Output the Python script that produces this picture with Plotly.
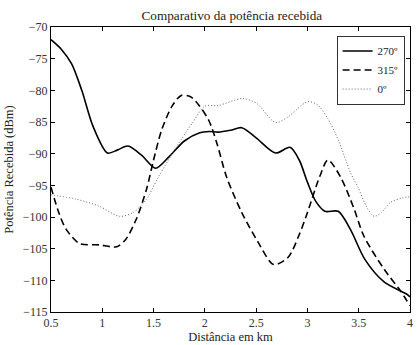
import plotly.graph_objects as go

x_270 = [0.5, 0.60, 0.70, 0.80, 0.91, 1.05, 1.15, 1.25, 1.38, 1.52, 1.65, 1.80, 1.95, 2.04, 2.13, 2.25, 2.36, 2.50, 2.69, 2.83, 2.92, 3.00, 3.08, 3.17, 3.30, 3.42, 3.56, 3.75, 3.97, 4.0]
y_270 = [-72.0, -73.5, -75.8, -80.0, -85.7, -89.9, -89.4, -88.8, -90.2, -92.3, -90.5, -88.0, -86.7, -86.5, -86.6, -86.3, -85.9, -87.5, -89.9, -89.0, -91.0, -94.5, -97.5, -99.1, -99.1, -102.0, -106.7, -110.3, -112.2, -112.6]

x_315 = [0.5, 0.58, 0.65, 0.78, 0.97, 1.14, 1.23, 1.33, 1.43, 1.50, 1.58, 1.68, 1.77, 1.86, 1.94, 2.04, 2.12, 2.21, 2.36, 2.52, 2.67, 2.81, 2.92, 3.00, 3.12, 3.20, 3.32, 3.45, 3.55, 3.75, 3.90, 4.0]
y_315 = [-95.3, -99.5, -102.0, -104.2, -104.4, -104.7, -103.5, -100.4, -95.7, -91.0, -86.2, -82.5, -80.8, -81.0, -82.3, -84.8, -88.5, -93.6, -99.3, -104.0, -107.5, -106.4, -102.8, -99.3, -93.6, -91.0, -93.6, -98.5, -103.0, -108.3, -111.5, -114.0]

x_0 = [0.5, 0.75, 0.97, 1.17, 1.30, 1.43, 1.55, 1.72, 1.88, 2.00, 2.13, 2.36, 2.50, 2.69, 2.81, 3.00, 3.10, 3.20, 3.30, 3.42, 3.49, 3.58, 3.65, 3.72, 3.81, 3.92, 4.0]
y_0 = [-96.5, -97.2, -98.3, -99.9, -99.3, -97.2, -93.6, -89.0, -85.1, -82.5, -82.4, -81.3, -82.0, -85.1, -84.2, -81.8, -82.3, -84.5, -87.8, -93.0, -95.2, -98.5, -99.9, -99.3, -97.7, -97.0, -96.8]

series_names = ["270º", "315º", "0º"]

fig = go.Figure()
fig.add_trace(go.Scatter(x=x_270, y=y_270, mode="lines", name=series_names[0],
                         line=dict(color="black", width=1.6, shape="spline", smoothing=0.8)))
fig.add_trace(go.Scatter(x=x_315, y=y_315, mode="lines", name=series_names[1],
                         line=dict(color="black", width=1.6, dash="7px,4px", shape="spline", smoothing=0.8)))
fig.add_trace(go.Scatter(x=x_0, y=y_0, mode="lines", name=series_names[2],
                         line=dict(color="#666666", width=1.0, dash="1px,2px", shape="spline", smoothing=0.8)))

font_family = "Liberation Serif"
axis_common = dict(showline=True, linecolor="black", linewidth=1, mirror="allticks",
                   ticks="inside", ticklen=4, tickcolor="black", showgrid=False, zeroline=False,
                   tickfont=dict(family=font_family, size=12, color="#333333"))

fig.update_layout(
    width=417, height=345,
    margin=dict(l=51, r=4, t=27, b=32),
    paper_bgcolor="white", plot_bgcolor="white",
    font=dict(family=font_family),
    title=dict(text="Comparativo da potência recebida", x=0.556, xanchor="center", y=0.955, yanchor="middle",
               font=dict(family=font_family, size=13.2, color="#222222")),
    xaxis=dict(range=[0.5, 4], tickvals=[0.5, 1, 1.5, 2, 2.5, 3, 3.5, 4],
               ticktext=["0.5", "1", "1.5", "2", "2.5", "3", "3.5", "4"],
               title=dict(text="Distância em km", standoff=2,
                          font=dict(family=font_family, size=12.5, color="#222222")), **axis_common),
    yaxis=dict(range=[-115, -70], tickvals=list(range(-115, -69, 5)),
               title=dict(text="Potência Recebida (dBm)", standoff=6,
                          font=dict(family=font_family, size=12.5, color="#222222")), **axis_common),
    legend=dict(x=0.985, y=0.97, xanchor="right", yanchor="top", bgcolor="white",
                bordercolor="#333333", borderwidth=1, tracegroupgap=0,
                font=dict(family=font_family, size=11, color="#222222"), itemwidth=30),
    showlegend=True,
)

fig.write_html("out.html")
